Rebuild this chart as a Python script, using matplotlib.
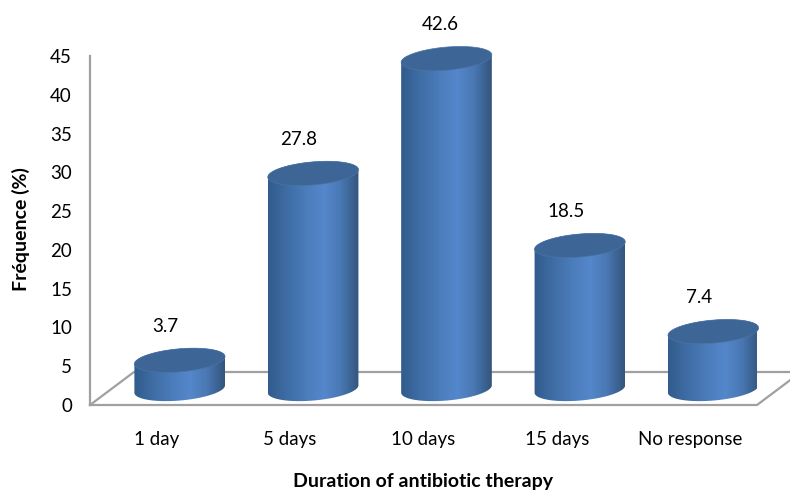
import numpy as np
import matplotlib
matplotlib.use('Agg')
import matplotlib.pyplot as plt
from matplotlib.colors import LinearSegmentedColormap
from matplotlib.patches import Polygon

categories = ['1 day', '5 days', '10 days', '15 days', 'No response']
values = [3.7, 27.8, 42.6, 18.5, 7.4]
yticks = [0, 5, 10, 15, 20, 25, 30, 35, 40, 45]

plt.rcParams['font.family'] = ['Lato', 'DejaVu Sans']

fig = plt.figure(figsize=(7.9, 4.91), dpi=100)
ax = fig.add_axes([90 / 790, 86 / 491, 667 / 790, 349 / 491])
ax.set_xlim(-0.5, 4.5)
ax.set_ylim(0, 45)

# pixels per data unit
sx = 667 / 5
sy = 349 / 45

# 3d look: back wall is shifted from the front plane
depth_x = 44 / sx
depth_y = 33 / sy
bar_dx = 23 / sx
bar_dy = 16 / sy
a = 45.5
b = 11.5
tilt = np.radians(5)

grey = '#a0a0a0'
ax.plot([-0.5, 4.5, 4.5 + depth_x], [0, 0, depth_y], color=grey, lw=1.6, clip_on=False, zorder=1)
ax.plot([-0.5, -0.5 + depth_x, 4.5 + depth_x], [0, depth_y, depth_y], color=grey, lw=1.6, clip_on=False, zorder=1)

cmap = LinearSegmentedColormap.from_list('cyl', [
    (0.0, '#315b8c'), (0.2, '#3e6ca3'), (0.42, '#4b7cbb'), (0.62, '#5487cb'),
    (0.8, '#4a78b4'), (0.93, '#3a628f'), (1.0, '#34557e')])
grad = np.linspace(0, 1, 256).reshape(1, -1)


def ell(cx, cy, t):
    ex = a * np.cos(t) * np.cos(tilt) - b * np.sin(t) * np.sin(tilt)
    ey = a * np.cos(t) * np.sin(tilt) + b * np.sin(t) * np.cos(tilt)
    return np.column_stack([cx + ex / sx, cy + ey / sy])


for i, v in enumerate(values):
    cx = i + bar_dx
    bottom = ell(cx, bar_dy, np.linspace(np.pi, 2 * np.pi, 60))
    top = ell(cx, bar_dy + v, np.linspace(0, np.pi, 60))
    body = Polygon(np.vstack([bottom, top]), closed=True, fc='none', ec='none', zorder=2)
    ax.add_patch(body)
    im = ax.imshow(grad, cmap=cmap, aspect='auto', zorder=2,
                   extent=[cx - a / sx, cx + a / sx, 0, bar_dy + v + 3])
    im.set_clip_path(body)
    cap = ell(cx, bar_dy + v, np.linspace(0, 2 * np.pi, 120))
    ax.add_patch(Polygon(cap, closed=True, fc='#3d6696', ec='#4a74a6', lw=0.5, zorder=3, clip_on=False))
    off = -6 if i == 2 else -14
    ax.annotate(str(v), (cx, bar_dy + v), xytext=(off * 0.72, 34 * 0.72), textcoords='offset points',
                ha='center', va='center', fontsize=13.5, color='black', annotation_clip=False)

ax.set_xlim(-0.5, 4.5)
ax.set_ylim(0, 45)
ax.set_xticks(range(len(categories)))
ax.set_xticklabels(categories)
ax.set_yticks(yticks)
ax.tick_params(axis='both', length=0, labelsize=13.5, labelcolor='black')
ax.tick_params(axis='x', pad=19)
ax.tick_params(axis='y', pad=13)
for s in ['top', 'right', 'bottom']:
    ax.spines[s].set_visible(False)
ax.spines['left'].set_color(grey)
ax.spines['left'].set_linewidth(1.6)
ax.patch.set_alpha(0)

fig.text(423 / 790, 1 - 481 / 491, 'Duration of antibiotic therapy', ha='center', va='center',
         fontsize=14, fontweight='bold')
fig.text(21 / 790, 1 - 229 / 491, 'Fréquence (%)', rotation=90, ha='center', va='center',
         fontsize=14, fontweight='bold')

fig.savefig('out.png', dpi=100)
